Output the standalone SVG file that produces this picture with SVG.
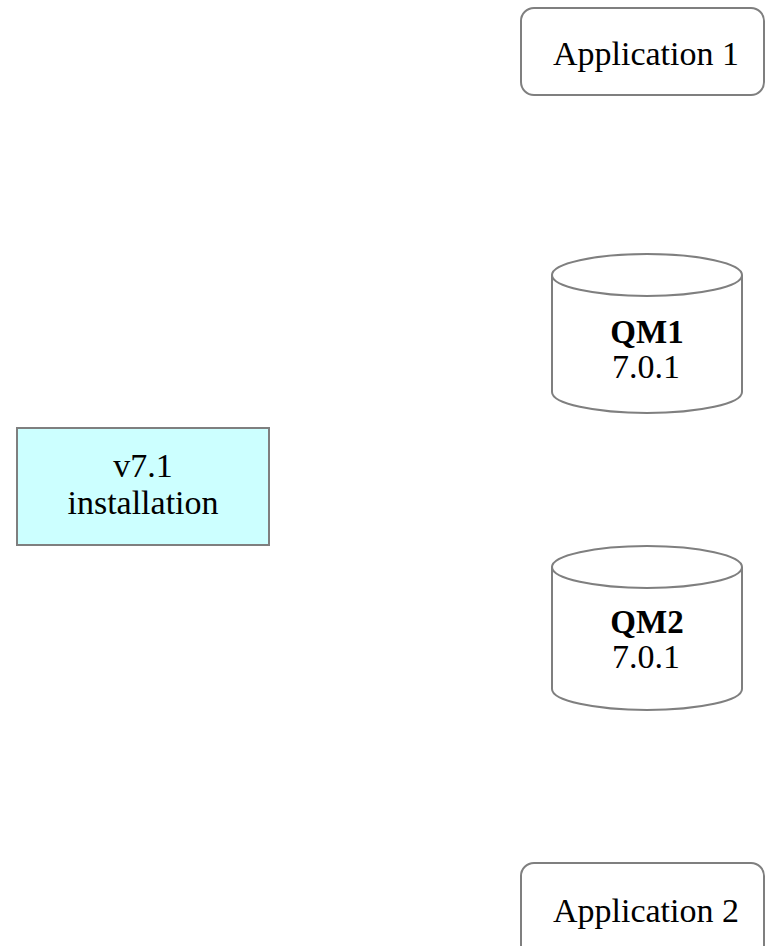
<svg xmlns="http://www.w3.org/2000/svg" width="765" height="946" viewBox="0 0 765 946">
  <style>
    .shape { stroke: #7f7f7f; stroke-width: 2; fill: #ffffff; }
    .install { fill: #ccffff; }
    text { font-family: "Liberation Serif", "Times New Roman", serif; font-size: 34px; fill: #000000; text-anchor: middle; }
    .bold { font-weight: bold; font-size: 33px; }
  </style>
  <rect width="765" height="946" fill="#ffffff"/>

  <g id="connectors"></g>

  <g id="app1">
    <rect class="shape" x="521" y="8" width="243" height="87" rx="13"/>
    <text x="646" y="65">Application 1</text>
  </g>

  <g id="qm1">
    <path class="shape" d="M552,275 L552,392 A95,21 0 0 0 742,392 L742,275"/>
    <ellipse class="shape" cx="647" cy="275" rx="95" ry="21"/>
    <text class="bold" x="647" y="343">QM1</text>
    <text x="646" y="378">7.0.1</text>
  </g>

  <g id="install">
    <rect class="shape install" x="17" y="428" width="252" height="117"/>
    <text x="143" y="477">v7.1</text>
    <text x="143" y="514">installation</text>
  </g>

  <g id="qm2">
    <path class="shape" d="M552,567 L552,689 A95,21 0 0 0 742,689 L742,567"/>
    <ellipse class="shape" cx="647" cy="567" rx="95" ry="21"/>
    <text class="bold" x="647" y="633">QM2</text>
    <text x="646" y="668">7.0.1</text>
  </g>

  <g id="app2">
    <rect class="shape" x="521" y="863" width="243" height="100" rx="13"/>
    <text x="646" y="922">Application 2</text>
  </g>
</svg>
